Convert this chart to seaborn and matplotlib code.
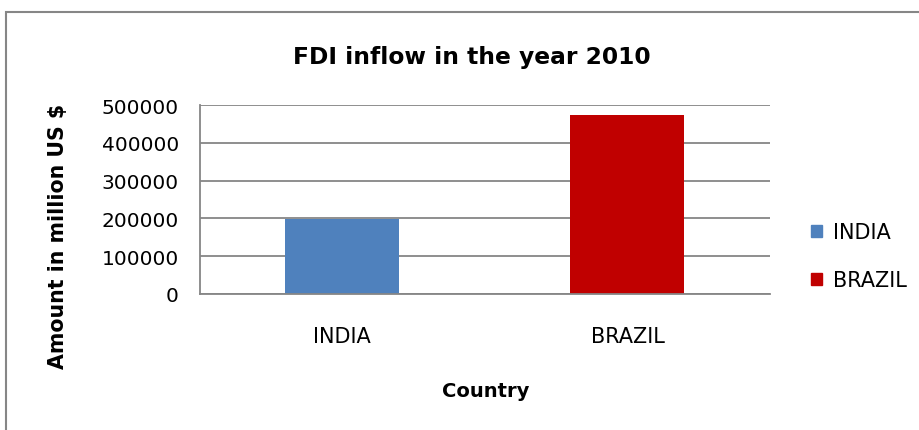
import matplotlib
matplotlib.use("Agg")
import matplotlib.pyplot as plt
import seaborn as sns
import pandas as pd
from matplotlib.patches import Rectangle

countries = ["INDIA", "BRAZIL"]
fdi_values = [198000, 473500]
colors = ["#4F81BD", "#C00000"]
yticks = [0, 100000, 200000, 300000, 400000, 500000]

sns.set_theme(style="white")
plt.rcParams['font.family'] = ['DejaVu Sans']
plt.rcParams['text.color'] = 'black'

df = pd.DataFrame({"Country": countries, "FDI": fdi_values})

fig = plt.figure(figsize=(9.2, 4.31), dpi=100)
ax = fig.add_axes([0.217, 0.316, 0.62, 0.438])

sns.barplot(data=df, x="Country", y="FDI", hue="Country", palette=colors,
            dodge=False, width=0.4, ax=ax, legend=False, saturation=1,
            linewidth=0)

ax.set_xlim(-0.5, 1.5)
ax.set_ylim(0, 500000)
ax.set_yticks(yticks)
ax.set_yticklabels([str(v) for v in yticks], fontsize=14.5, color="black")
ax.tick_params(axis='x', labelsize=15, length=0, pad=23, labelcolor="black")
ax.tick_params(axis='y', length=6, width=1.3, color="#868686", direction='out', pad=9)
ax.yaxis.grid(True, color="#868686", linewidth=1.3)
ax.set_axisbelow(True)
for s in ["top", "right"]:
    ax.spines[s].set_visible(False)
ax.spines["left"].set_color("#868686")
ax.spines["left"].set_linewidth(1.3)
ax.spines["bottom"].set_color("#868686")
ax.spines["bottom"].set_linewidth(1.3)

ax.set_xlabel("Country", fontsize=14, fontweight="bold", color="black")
ax.xaxis.set_label_coords(0.502, -0.46)
ax.set_ylabel("Amount in million US $", fontsize=14.8, fontweight="bold", color="black")
ax.yaxis.set_label_coords(-0.23, 0.31)
ax.set_title("FDI inflow in the year 2010", fontsize=16.8, fontweight="bold",
             color="black", pad=30, x=0.477)

handles = [Rectangle((0, 0), 1, 1, color=c) for c in colors]
fig.legend(handles, countries, loc="center left", bbox_to_anchor=(0.881, 0.403),
           frameon=False, fontsize=15, handlelength=0.55, handleheight=0.55,
           labelspacing=1.35, handletextpad=0.55, borderaxespad=0, borderpad=0)

fig.patches.append(Rectangle((0.006, -0.01), 1.0, 0.98, transform=fig.transFigure,
                             fill=False, edgecolor="#868686", linewidth=1.5))

fig.savefig("out.png", dpi=100)
